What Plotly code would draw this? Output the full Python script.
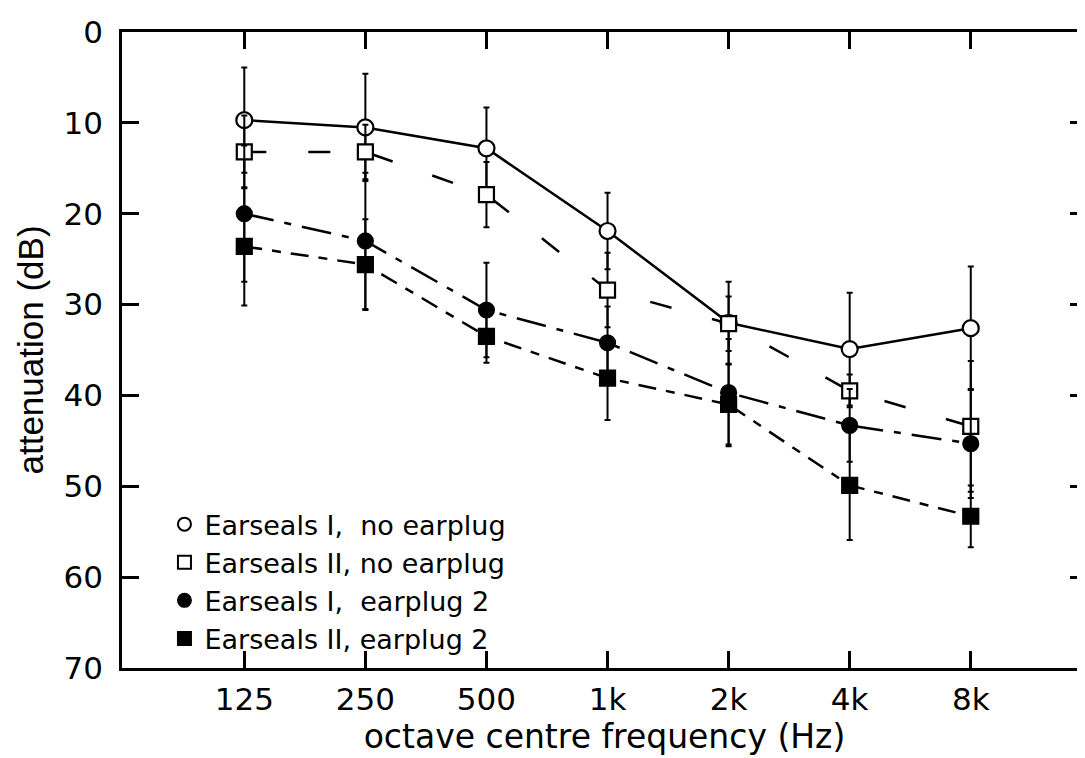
import plotly.graph_objects as go

freq_labels = ['125', '250', '500', '1k', '2k', '4k', '8k']
xpos = list(range(len(freq_labels)))

# mean attenuation (dB) per series
es1_noplug = [9.7, 10.5, 12.8, 21.9, 32.0, 34.9, 32.6]
es2_noplug = [13.2, 13.2, 17.9, 28.4, 32.1, 39.5, 43.4]
es1_plug2 = [20.0, 23.0, 30.6, 34.2, 39.7, 43.3, 45.3]
es2_plug2 = [23.6, 25.6, 33.5, 38.1, 41.0, 49.9, 53.3]

# error bar half-lengths (dB)
es1_noplug_err = [5.8, 5.9, 4.5, 4.2, 4.5, 6.2, 6.8]
es2_noplug_err = [4.0, 3.0, 3.6, 4.1, 3.0, 1.8, 7.2]
es1_plug2_err = [7.5, 7.5, 5.2, 4.0, 5.9, 4.0, 6.0]
es2_plug2_err = [6.5, 5.0, 2.9, 4.6, 4.4, 6.0, 3.4]

legend_names = ['Earseals I,  no earplug', 'Earseals II, no earplug',
                'Earseals I,  earplug 2', 'Earseals II, earplug 2']

series = [
    (es1_noplug, es1_noplug_err, 'circle', 'white', 'solid', 16),
    (es2_noplug, es2_noplug_err, 'square', 'white', '22px,42px', 15),
    (es1_plug2, es1_plug2_err, 'circle', 'black', '30px,11px,7px,11px', 15),
    (es2_plug2, es2_plug2_err, 'square', 'black', '18px,10px,9px,10px', 15),
]

fig = go.Figure()
for (vals, errs, sym, fill, dash, size), name in zip(series, legend_names):
    fig.add_trace(go.Scatter(
        x=xpos, y=vals, mode='lines+markers', showlegend=False,
        line=dict(color='black', width=2.5, dash=dash),
        marker=dict(symbol=sym, size=size, color=fill,
                    line=dict(color='black', width=2.2)),
        error_y=dict(type='data', array=errs, visible=True,
                     color='black', thickness=2, width=3),
    ))
    # legend entry: marker only
    fig.add_trace(go.Scatter(
        x=[None], y=[None], mode='markers', name=name,
        marker=dict(symbol=sym, size=13, color=fill,
                    line=dict(color='black', width=2)),
    ))

tick_font = dict(family='DejaVu Sans', size=31, color='black')
fig.update_layout(
    width=1085, height=758,
    margin=dict(l=114, r=3, t=24, b=98),
    paper_bgcolor='white', plot_bgcolor='white',
    showlegend=True,
    legend=dict(x=0.044, y=0.264, xanchor='left', yanchor='top',
                font=dict(family='DejaVu Sans', size=27, color='black'),
                bgcolor='rgba(0,0,0,0)', tracegroupgap=0),
    xaxis=dict(range=[-1.01, 6.96], tickvals=xpos, ticktext=freq_labels,
               ticks='inside', ticklen=17, tickwidth=2.5, tickcolor='black',
               showline=True, linewidth=2.5, linecolor='black', mirror='ticks',
               showgrid=False, zeroline=False, tickfont=tick_font,
               ticklabelstandoff=2,
               title=dict(text='octave centre frequency (Hz)', standoff=2,
                          font=dict(family='DejaVu Sans', size=33, color='black'))),
    yaxis=dict(range=[70, 0], tickvals=[0, 10, 20, 30, 40, 50, 60, 70],
               ticks='inside', ticklen=17, tickwidth=2.5, tickcolor='black',
               showline=True, linewidth=2.5, linecolor='black', mirror='ticks',
               showgrid=False, zeroline=False, tickfont=tick_font,
               ticklabelstandoff=10,
               title=dict(text='attenuation (dB)', standoff=10,
                          font=dict(family='Liberation Sans', size=35, color='black'))),
)

fig.write_html('out.html')
